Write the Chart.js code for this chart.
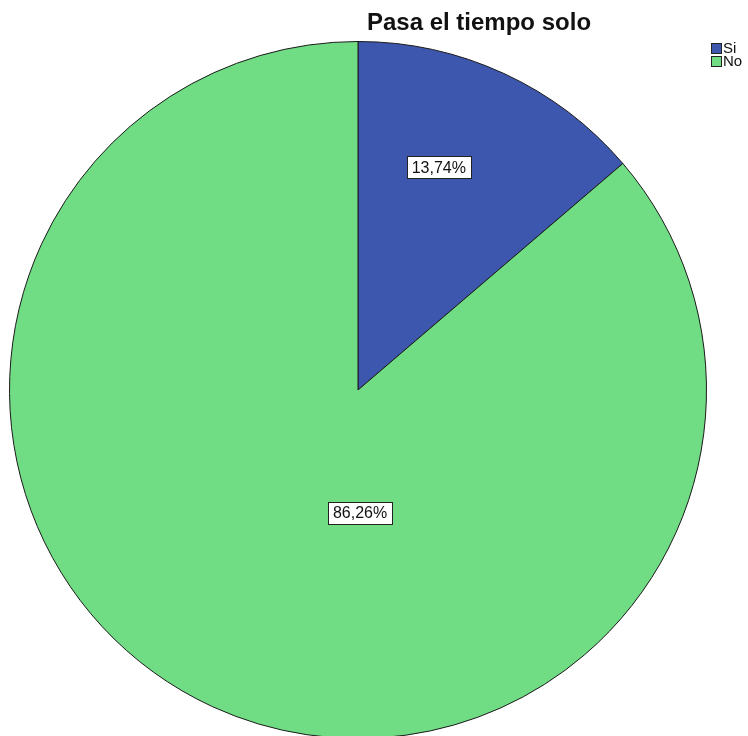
<!DOCTYPE html>
<html>
<head>
<meta charset="utf-8">
<script src="https://cdn.jsdelivr.net/npm/chart.js@4"></script>
<style>
  html, body { margin: 0; padding: 0; background: #fff; overflow: hidden; }
  #wrap { width: 748px; height: 750px; position: relative; }
</style>
</head>
<body>
<div id="wrap"><canvas id="myChart"></canvas></div>
<script>
// data
const chartTitle = "Pasa el tiempo solo";
const categories = ["Si", "No"];
const percents = [13.74, 86.26];
const sliceColors = ["#3e57ae", "#70dc84"];

// label placement per slice: fraction of radius and angle shift (degrees)
const labelPlace = [{ f: 0.68, da: -4.8 }, { f: 0.352, da: -25.7 }];

const piePlugin = {
  id: "spssExtras",
  afterDraw(chart) {
    const ctx = chart.ctx;
    const meta = chart.getDatasetMeta(0);
    ctx.save();
    // value labels in white boxes
    ctx.font = "16px 'Liberation Sans', Arial, sans-serif";
    ctx.textAlign = "center";
    ctx.textBaseline = "middle";
    meta.data.forEach((arc, i) => {
      const p = arc.getProps(["x", "y", "startAngle", "endAngle", "outerRadius"], true);
      const mid = (p.startAngle + p.endAngle) / 2 + labelPlace[i].da * Math.PI / 180;
      const r = p.outerRadius * labelPlace[i].f;
      const x = p.x + Math.cos(mid) * r;
      const y = p.y + Math.sin(mid) * r;
      const txt = percents[i].toFixed(2).replace(".", ",") + "%";
      const w = ctx.measureText(txt).width + 10;
      const h = 22;
      ctx.fillStyle = "#fff";
      ctx.fillRect(Math.round(x - w / 2) + 0.5, Math.round(y - h / 2) + 0.5, Math.round(w), h);
      ctx.strokeStyle = "#222";
      ctx.lineWidth = 1;
      ctx.strokeRect(Math.round(x - w / 2) + 0.5, Math.round(y - h / 2) + 0.5, Math.round(w), h);
      ctx.fillStyle = "#111";
      ctx.fillText(txt, x, y + 1);
    });
    // title
    ctx.font = "bold 24px 'Liberation Sans', Arial, sans-serif";
    ctx.textAlign = "center";
    ctx.textBaseline = "alphabetic";
    ctx.fillStyle = "#111";
    ctx.fillText(chartTitle, 479, 30);
    // legend
    ctx.font = "15px 'Liberation Sans', Arial, sans-serif";
    ctx.textAlign = "left";
    ctx.textBaseline = "middle";
    categories.forEach((c, i) => {
      const y = 43 + i * 13;
      ctx.fillStyle = sliceColors[i];
      ctx.fillRect(711.5, y + 0.5, 10, 10);
      ctx.strokeStyle = "#222";
      ctx.strokeRect(711.5, y + 0.5, 10, 10);
      ctx.fillStyle = "#111";
      ctx.fillText(c, 723, y + 6);
    });
    ctx.restore();
  }
};

new Chart("myChart", {
  type: "pie",
  data: {
    labels: categories,
    datasets: [{
      data: percents,
      backgroundColor: sliceColors,
      borderColor: "#1a1a1a",
      borderWidth: 1
    }]
  },
  options: {
    responsive: true,
    maintainAspectRatio: false,
    animation: false,
    layout: { padding: { top: 41, left: 9, right: 41, bottom: 11 } },
    plugins: {
      legend: { display: false },
      tooltip: { enabled: false }
    }
  },
  plugins: [piePlugin]
});
</script>
</body>
</html>
